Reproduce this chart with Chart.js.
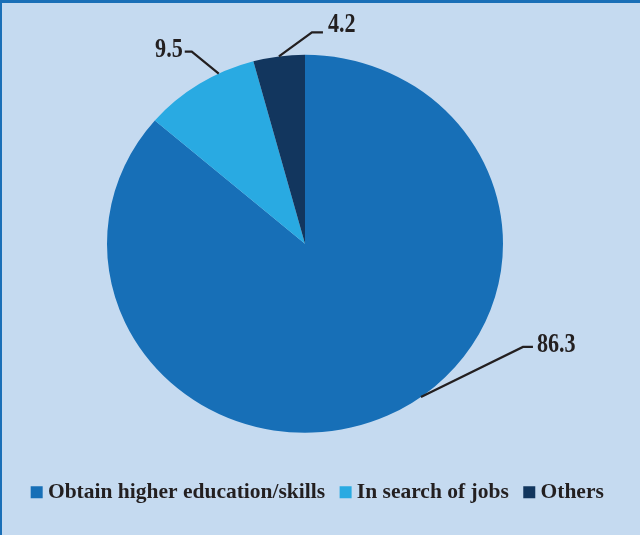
<!DOCTYPE html>
<html>
<head>
<meta charset="utf-8">
<script src="https://cdn.jsdelivr.net/npm/chart.js@4.4.1/dist/chart.umd.min.js"></script>
<style>
    html, body { margin: 0; padding: 0; background: #c5daf0; }
    canvas { display: block; }
</style>
</head>
<body>
<canvas id="reasonChart" width="640" height="535"></canvas>
<script>
const categories = ['Obtain higher education/skills', 'In search of jobs', 'Others'];
const shares = [86.3, 9.5, 4.2];

const sliceColors = ['#176fb7', '#29aae2', '#12365e'];
const inkColor = '#231f20';

document.addEventListener('DOMContentLoaded', function() {

    // Panel background with the blue rule along the top and left edges
    const panelPlugin = {
        id: 'panel',
        beforeDraw(chart) {
            const ctx = chart.ctx;
            ctx.save();
            ctx.fillStyle = '#c5daf0';
            ctx.fillRect(0, 0, chart.width, chart.height);
            ctx.fillStyle = '#1a6fb7';
            ctx.fillRect(0, 0, chart.width, 3);
            ctx.fillRect(0, 0, 2, chart.height);
            ctx.restore();
        }
    };

    // Move the legend row sideways without touching the pie
    const legendNudge = {
        id: 'legendNudge',
        afterLayout(chart, args, opts) {
            if (chart.legend) {
                chart.legend.left += opts.dx;
                chart.legend.right += opts.dx;
            }
        }
    };

    // Pie is drawn slightly wider than tall; value labels hang off leader lines
    const pieLabels = {
        id: 'pieLabels',
        beforeDatasetsDraw(chart, args, opts) {
            const arc = chart.getDatasetMeta(0).data[0];
            const ctx = chart.ctx;
            ctx.save();
            ctx.translate(arc.x, arc.y);
            ctx.scale(opts.stretch, 1);
            ctx.translate(-arc.x, -arc.y);
        },
        afterDatasetsDraw(chart, args, opts) {
            const ctx = chart.ctx;
            ctx.restore();

            const arcs = chart.getDatasetMeta(0).data;
            const values = chart.data.datasets[0].data;

            ctx.save();
            ctx.strokeStyle = inkColor;
            ctx.fillStyle = inkColor;
            ctx.lineWidth = 2.2;
            ctx.font = 'bold 27px "Liberation Serif", serif';
            ctx.textBaseline = 'alphabetic';

            arcs.forEach((arc, i) => {
                const lead = opts.leaders[i];
                const a = arc.startAngle + (arc.endAngle - arc.startAngle) * lead.frac;
                const r = arc.outerRadius;
                const x0 = arc.x + opts.stretch * r * Math.cos(a);
                const y0 = arc.y + r * Math.sin(a);
                const x1 = x0 + lead.dx;
                const y1 = y0 + lead.dy;
                const x2 = x1 + lead.run;

                ctx.beginPath();
                ctx.moveTo(x0, y0);
                ctx.lineTo(x1, y1);
                ctx.lineTo(x2, y1);
                ctx.stroke();

                const dir = lead.run < 0 ? -1 : 1;
                ctx.save();
                ctx.translate(x2 + dir * lead.gap, y1 + lead.baseline);
                ctx.scale(0.82, 1);
                ctx.textAlign = dir < 0 ? 'right' : 'left';
                ctx.fillText(values[i].toFixed(1), 0, 0);
                ctx.restore();
            });
            ctx.restore();
        }
    };

    const ctx = document.getElementById('reasonChart').getContext('2d');

    new Chart(ctx, {
        type: 'pie',
        data: {
            labels: categories,
            datasets: [{
                data: shares,
                backgroundColor: sliceColors,
                borderWidth: 0
            }]
        },
        options: {
            responsive: false,
            animation: false,
            radius: 189,
            layout: {
                padding: { top: 26, right: 30, bottom: 22, left: 0 }
            },
            plugins: {
                tooltip: { enabled: false },
                legend: {
                    position: 'bottom',
                    labels: {
                        color: inkColor,
                        font: { family: '"Liberation Serif", serif', size: 21.5, weight: 'bold' },
                        usePointStyle: true,
                        pointStyle: 'rect',
                        boxWidth: 1,
                        boxHeight: 12,
                        padding: 20
                    }
                },
                legendNudge: { dx: 15 },
                pieLabels: {
                    stretch: 1.0476,
                    leaders: [
                        { frac: 0.464, dx: 102, dy: -50, run: 10, gap: 4, baseline: 5 },
                        { frac: 0.687, dx: -27, dy: -22, run: -7, gap: 2, baseline: 5 },
                        { frac: 0.5, dx: 33, dy: -24, run: 11, gap: 5, baseline: 0 }
                    ]
                }
            }
        },
        plugins: [panelPlugin, legendNudge, pieLabels]
    });
});
</script>
</body>
</html>
